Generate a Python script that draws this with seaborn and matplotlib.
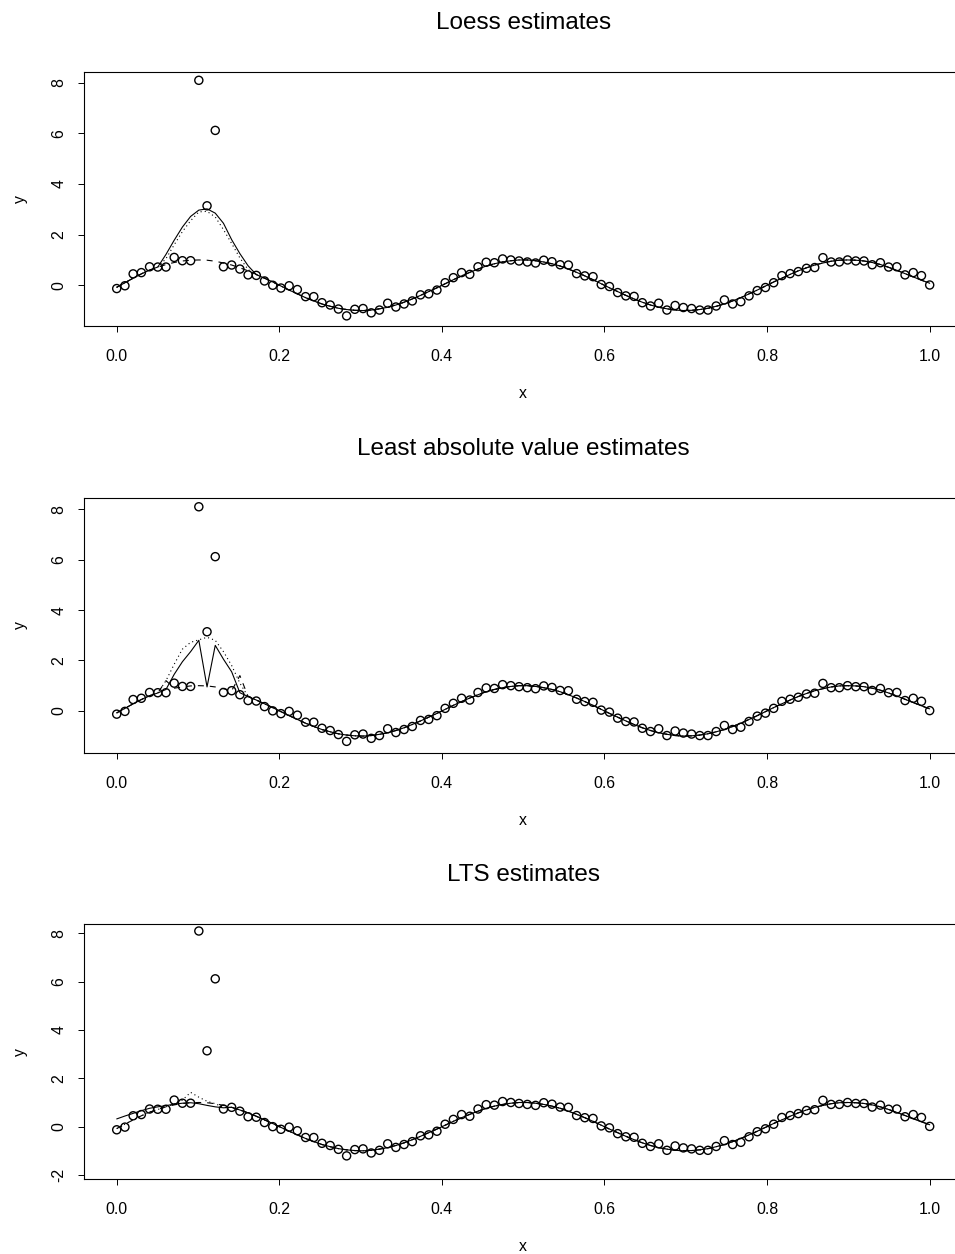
import matplotlib
matplotlib.use("Agg")
import matplotlib.pyplot as plt
import seaborn as sns
from matplotlib.ticker import FormatStrFormatter

sns.set_style("white")
plt.rcParams['font.family'] = ['Liberation Sans', 'DejaVu Sans']
plt.rcParams['lines.scale_dashes'] = False
plt.rcParams['axes.unicode_minus'] = False
plt.rcParams['text.color'] = 'black'
plt.rcParams['axes.labelcolor'] = 'black'
plt.rcParams['xtick.color'] = 'black'
plt.rcParams['ytick.color'] = 'black'

# ---- data -------------------------------------------------------------
x = [0.0000, 0.0101, 0.0202, 0.0303, 0.0404, 0.0505, 0.0606, 0.0707, 0.0808, 0.0909,
     0.1010, 0.1111, 0.1212, 0.1313, 0.1414, 0.1515, 0.1616, 0.1717, 0.1818, 0.1919,
     0.2020, 0.2121, 0.2222, 0.2323, 0.2424, 0.2525, 0.2626, 0.2727, 0.2828, 0.2929,
     0.3030, 0.3131, 0.3232, 0.3333, 0.3434, 0.3535, 0.3636, 0.3737, 0.3838, 0.3939,
     0.4040, 0.4141, 0.4242, 0.4343, 0.4444, 0.4545, 0.4646, 0.4747, 0.4848, 0.4949,
     0.5051, 0.5152, 0.5253, 0.5354, 0.5455, 0.5556, 0.5657, 0.5758, 0.5859, 0.5960,
     0.6061, 0.6162, 0.6263, 0.6364, 0.6465, 0.6566, 0.6667, 0.6768, 0.6869, 0.6970,
     0.7071, 0.7172, 0.7273, 0.7374, 0.7475, 0.7576, 0.7677, 0.7778, 0.7879, 0.7980,
     0.8081, 0.8182, 0.8283, 0.8384, 0.8485, 0.8586, 0.8687, 0.8788, 0.8889, 0.8990,
     0.9091, 0.9192, 0.9293, 0.9394, 0.9495, 0.9596, 0.9697, 0.9798, 0.9899, 1.0000]

y = [-0.13, -0.02, 0.45, 0.50, 0.73, 0.72, 0.72, 1.10, 0.97, 0.97,
     8.10, 3.14, 6.12, 0.73, 0.80, 0.64, 0.41, 0.39, 0.17, 0.00,
     -0.11, -0.02, -0.17, -0.45, -0.45, -0.69, -0.78, -0.94, -1.21, -0.95,
     -0.92, -1.09, -0.98, -0.71, -0.86, -0.74, -0.62, -0.38, -0.34, -0.19,
     0.10, 0.30, 0.50, 0.43, 0.73, 0.91, 0.89, 1.04, 1.00, 0.96,
     0.92, 0.88, 0.99, 0.93, 0.81, 0.80, 0.46, 0.37, 0.34, 0.03,
     -0.05, -0.29, -0.42, -0.44, -0.69, -0.82, -0.71, -0.98, -0.80, -0.88,
     -0.92, -0.98, -0.98, -0.82, -0.58, -0.74, -0.65, -0.42, -0.21, -0.09,
     0.10, 0.38, 0.46, 0.54, 0.67, 0.70, 1.09, 0.92, 0.92, 1.00,
     0.96, 0.96, 0.81, 0.89, 0.72, 0.73, 0.41, 0.50, 0.38, 0.01]

# smooth fit shared by the curves away from the outliers
base_fit = [-0.08, 0.10, 0.28, 0.45, 0.60, 0.71, 0.82, 0.90, 0.96, 0.99,
            1.00, 0.99, 0.95, 0.88, 0.80, 0.69, 0.57, 0.43, 0.28, 0.13,
            -0.03, -0.19, -0.34, -0.49, -0.62, -0.74, -0.83, -0.91, -0.96, -0.99,
            -1.00, -0.98, -0.93, -0.87, -0.78, -0.67, -0.54, -0.40, -0.25, -0.10,
            0.06, 0.22, 0.37, 0.51, 0.64, 0.76, 0.85, 0.92, 0.97, 1.00,
            1.00, 0.97, 0.92, 0.85, 0.76, 0.64, 0.51, 0.37, 0.22, 0.06,
            -0.10, -0.25, -0.40, -0.54, -0.67, -0.78, -0.87, -0.93, -0.98, -1.00,
            -0.99, -0.96, -0.91, -0.83, -0.74, -0.62, -0.49, -0.34, -0.19, -0.03,
            0.13, 0.28, 0.43, 0.57, 0.69, 0.80, 0.88, 0.95, 0.99, 1.00,
            0.99, 0.96, 0.90, 0.82, 0.71, 0.59, 0.46, 0.33, 0.20, 0.08]

# local deviations of each curve near the outliers (start index, values)
loess_solid_seg = (5, [0.72, 1.22, 1.78, 2.30, 2.72, 2.97, 3.02, 2.85, 2.45, 1.80, 1.25, 0.77, 0.42])
loess_dotted_seg = (5, [0.72, 1.05, 1.60, 2.12, 2.55, 2.90, 2.92, 2.70, 2.20, 1.65, 1.08, 0.62, 0.42])
loess_dashed_seg = (5, [])

lav_solid_seg = (6, [0.85, 1.45, 1.95, 2.35, 2.80, 0.95, 2.60, 2.05, 1.55, 0.72])
lav_dotted_seg = (6, [1.20, 1.85, 2.45, 2.72, 2.82, 2.92, 2.80, 2.35, 1.80, 1.10])
lav_dashed_seg = (6, [1.20, 0.90, 0.95, 0.99, 1.00, 0.99, 0.95, 0.88, 0.80, 1.40, 0.57])

lts_solid_seg = (0, [0.32, 0.44, 0.55, 0.66, 0.76, 0.82, 0.87, 0.93, 0.97, 0.99,
                     0.95, 0.88, 0.82, 0.78])
lts_dotted_seg = (7, [0.93, 1.10, 1.42, 1.22, 1.05, 0.95, 0.80])
lts_dashed_seg = (0, [])

titles = ["Loess estimates", "Least absolute value estimates", "LTS estimates"]
x_ticks = [0.0, 0.2, 0.4, 0.6, 0.8, 1.0]
y_ticks_top = [0, 2, 4, 6, 8]
y_ticks_bottom = [-2, 0, 2, 4, 6, 8]


def curve(seg):
    start, vals = seg
    out = list(base_fit)
    out[start:start + len(vals)] = vals
    return out


panels = [
    (titles[0], [loess_dashed_seg, loess_dotted_seg, loess_solid_seg], y_ticks_top, (-1.61, 8.44)),
    (titles[1], [lav_dashed_seg, lav_dotted_seg, lav_solid_seg], y_ticks_top, (-1.66, 8.46)),
    (titles[2], [lts_dashed_seg, lts_dotted_seg, lts_solid_seg], y_ticks_bottom, (-2.18, 8.39)),
]

# ---- layout -----------------------------------------------------------
W, H = 955, 1254
fig = plt.figure(figsize=(W / 100, H / 100), dpi=100)
left_px, right_px = 84.2, 962.2
tops = [71.7, 497.7, 924.0]
heights = [254.3, 255.0, 255.3]

styles = [(0, (4.3, 4.3)), (0, (0.8, 2.2)), '-']

for (title, segs, yt, ylim), top, h in zip(panels, tops, heights):
    ax = fig.add_axes([left_px / W, 1 - (top + h) / H, (right_px - left_px) / W, h / H])
    sns.scatterplot(x=x, y=y, ax=ax, marker='o', s=34, color='none',
                    edgecolor='black', linewidth=1.0, zorder=2)
    for seg, ls in zip(segs, styles):
        sns.lineplot(x=x, y=curve(seg), ax=ax, color='black', linewidth=0.8,
                     linestyle=ls, sort=False, estimator=None, zorder=3)
    ax.set_xlim(-0.04, 1.04)
    ax.set_ylim(*ylim)
    ax.set_xticks(x_ticks)
    ax.set_yticks(yt)
    ax.xaxis.set_major_formatter(FormatStrFormatter('%.1f'))
    ax.tick_params(axis='both', direction='out', length=4, width=0.7,
                   color='black', labelcolor='black', labelsize=11.4,
                   bottom=True, left=True)
    ax.tick_params(axis='x', pad=12.5)
    ax.tick_params(axis='y', pad=9, labelrotation=90)
    for lab in ax.get_yticklabels():
        lab.set_va('center')
    for sp in ax.spines.values():
        sp.set_color('black')
        sp.set_linewidth(0.8)
        sp.set_visible(True)
    ax.set_xlabel('x', fontsize=11.4, labelpad=16, color='black')
    ax.set_ylabel('y', fontsize=11.4, labelpad=17, color='black')
    ax.set_title(title, fontsize=17.5, pad=31, color='black')
    ax.grid(False)

fig.savefig('out.png', dpi=100)
